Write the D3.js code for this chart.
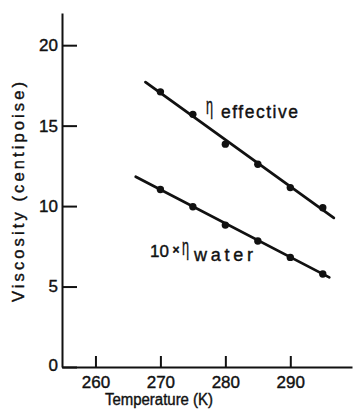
<!DOCTYPE html>
<html><head><meta charset="utf-8">
<script src="https://cdn.jsdelivr.net/npm/d3@7"></script>
<style>
body{margin:0;background:#fff;}
text{font-family:"Liberation Sans",Arial,Helvetica,sans-serif;fill:#111;stroke:#111;stroke-width:0.4px;}
</style></head>
<body><svg id="c" width="355" height="409"></svg>
<script>
const temps = [270, 275, 280, 285, 290, 295];
const effective = [17.1, 15.7, 13.85, 12.6, 11.15, 9.9];
const water10 = [11.03, 9.96, 8.82, 7.83, 6.81, 5.78];
const effFitT = [267.7, 296.7];
const effFitV = [17.7, 9.27];
const watFitT = [266.2, 296.0];
const watFitV = [11.82, 5.57];
const xTicks = [260, 270, 280, 290];
const yTicks = [0, 5, 10, 15, 20];

const svg = d3.select("#c");
const x = d3.scaleLinear().domain([254.85, 299.5]).range([62, 352]);
const y = d3.scaleLinear().domain([0, 22]).range([367, 13]);

const gx = svg.append("g").attr("transform","translate(0,367)")
  .call(d3.axisBottom(x).tickValues(xTicks).tickSize(-11).tickPadding(9).tickSizeOuter(0));
const gy = svg.append("g").attr("transform","translate(62,0)")
  .call(d3.axisLeft(y).tickValues(yTicks).tickSize(-15).tickPadding(4).tickSizeOuter(0));
[gx, gy].forEach(g=>{
  g.attr("font-size",17);
  g.select(".domain").attr("stroke","#111").attr("stroke-width",2);
  g.selectAll(".tick line").attr("stroke","#111").attr("stroke-width",2);
  g.selectAll(".tick text").attr("font-size",17).attr("fill","#111")
   .style("font-family","'Liberation Sans',Arial,sans-serif");
});
gy.select(".tick:first-of-type text").attr("dy","0.2em");

const line = d3.line().x(d=>x(d[0])).y(d=>y(d[1]));
[[effFitT, effFitV],[watFitT, watFitV]].forEach(([t,v])=>{
  svg.append("path").datum(t.map((d,i)=>[d, v[i]])).attr("d", line)
    .attr("fill","none").attr("stroke","#111").attr("stroke-width",2.8).attr("stroke-linecap","round");
});
[effective, water10].forEach(vals=>{
  svg.selectAll(null).data(temps.map((t,i)=>[t, vals[i]])).enter().append("circle")
    .attr("cx", d=>x(d[0])).attr("cy", d=>y(d[1])).attr("r",3.7).attr("fill","#111");
});

// annotations
svg.append("text").attr("transform","translate(206,113.5) scale(0.55,1)").attr("font-size",23).text("η");
svg.append("text").attr("x",221).attr("y",118).attr("font-size",17.5)
  .attr("textLength",77).attr("lengthAdjust","spacing").text("effective");

svg.append("text").attr("x",150).attr("y",257).attr("font-size",17).text("10");
svg.append("text").attr("x",176).attr("y",254).attr("font-size",12).attr("font-weight","bold")
  .attr("text-anchor","middle").text("×");
svg.append("text").attr("transform","translate(182,255) scale(0.55,1)").attr("font-size",23).text("η");
svg.append("text").attr("x",194).attr("y",261).attr("font-size",18)
  .attr("textLength",59).attr("lengthAdjust","spacing").text("water");

// axis titles
svg.append("text").attr("x",159).attr("y",405).attr("font-size",16).attr("text-anchor","middle")
  .attr("textLength",108).attr("lengthAdjust","spacingAndGlyphs").text("Temperature (K)");
svg.append("text").attr("transform","translate(24,302) rotate(-90)").attr("font-size",16.5)
  .attr("textLength",220).attr("lengthAdjust","spacing").text("Viscosity (centipoise)");
</script></body></html>
